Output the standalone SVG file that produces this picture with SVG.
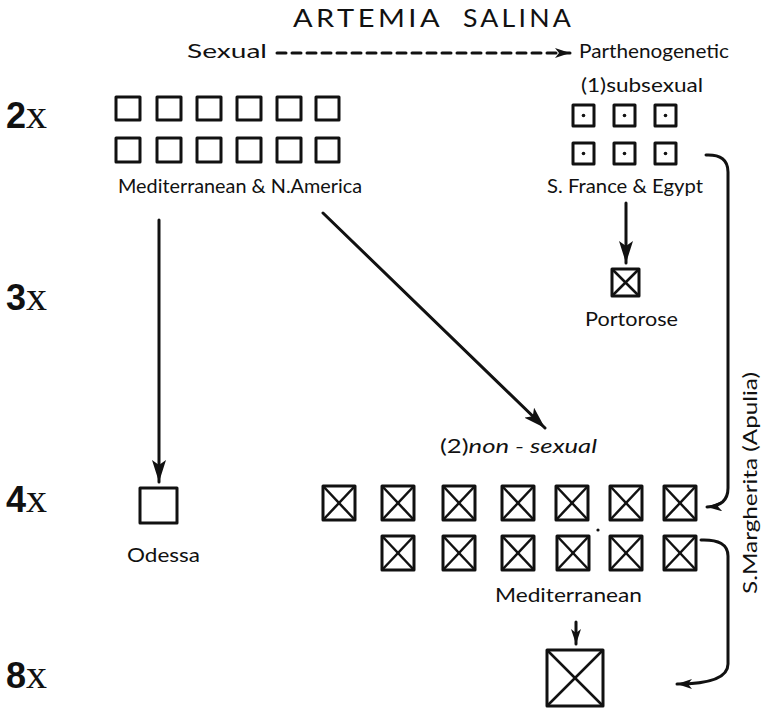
<svg xmlns="http://www.w3.org/2000/svg" width="764" height="709" viewBox="0 0 764 709">
<style>
  text { font-family: "Lato", "Liberation Sans", sans-serif; fill: #111; }
  .lbl { font-size: 20px; }
  .title { font-size: 25px; letter-spacing: 3px; }
  .ploid { font-family: "Liberation Sans", sans-serif; font-weight: bold; font-size: 36px; }
  .xs { font-family: "Liberation Serif", serif; font-weight: normal; font-size: 42px; }
  .box { fill: none; stroke: #111; stroke-width: 3; stroke-linejoin: round; }
  .cross { stroke: #111; stroke-width: 2.5; }
  .line { fill: none; stroke: #111; stroke-width: 3; stroke-linecap: round; }
  .dot { fill: #111; }
</style>
<defs>
  <marker id="ah" markerUnits="userSpaceOnUse" markerWidth="24" markerHeight="14" refX="22" refY="7" orient="auto">
    <path d="M0,0 L22,7 L0,14 L5,7 Z" fill="#111"/>
  </marker>
  <marker id="ahs" markerUnits="userSpaceOnUse" markerWidth="16" markerHeight="10" refX="15" refY="5" orient="auto">
    <path d="M0,0 L15,5 L0,10 L4,5 Z" fill="#111"/>
  </marker>
  <g id="xbox">
    <rect class="box" x="0" y="0" width="32" height="34"/>
    <line class="cross" x1="0" y1="0" x2="32" y2="34"/>
    <line class="cross" x1="32" y1="0" x2="0" y2="34"/>
  </g>
  <g id="dbox">
    <rect class="box" x="0" y="0" width="21" height="21"/>
    <circle class="dot" cx="10.5" cy="10.5" r="1.8"/>
  </g>
</defs>
<rect width="764" height="709" fill="#fff"/>

<g id="title">
  <text class="title" x="293" y="27" textLength="150" lengthAdjust="spacingAndGlyphs">ARTEMIA</text>
  <text class="title" x="463" y="27" textLength="111" lengthAdjust="spacingAndGlyphs">SALINA</text>
  <text class="lbl" x="187" y="58" font-size="24" textLength="80" lengthAdjust="spacingAndGlyphs">Sexual</text>
  <text class="lbl" x="579" y="58" textLength="150" lengthAdjust="spacingAndGlyphs">Parthenogenetic</text>
</g>

<g id="ploidy">
  <text class="ploid" x="6" y="128">2<tspan class="xs">x</tspan></text>
  <text class="ploid" x="6" y="310">3<tspan class="xs">x</tspan></text>
  <text class="ploid" x="6" y="512">4<tspan class="xs">x</tspan></text>
  <text class="ploid" x="6" y="688">8<tspan class="xs">x</tspan></text>
</g>

<g id="sexual-2x">
  <rect class="box" x="116" y="97" width="24" height="23"/>
  <rect class="box" x="157" y="97" width="24" height="23"/>
  <rect class="box" x="197" y="97" width="24" height="23"/>
  <rect class="box" x="237" y="97" width="24" height="23"/>
  <rect class="box" x="277" y="97" width="24" height="23"/>
  <rect class="box" x="316" y="97" width="23" height="23"/>
  <rect class="box" x="116" y="138" width="24" height="24"/>
  <rect class="box" x="157" y="138" width="24" height="24"/>
  <rect class="box" x="197" y="138" width="24" height="24"/>
  <rect class="box" x="237" y="138" width="24" height="24"/>
  <rect class="box" x="277" y="138" width="24" height="24"/>
  <rect class="box" x="316" y="138" width="23" height="24"/>
  <text class="lbl" x="118" y="193" textLength="244" lengthAdjust="spacingAndGlyphs">Mediterranean &amp; N.America</text>
</g>

<g id="subsexual-2x">
  <text class="lbl" x="581" y="92" textLength="122" lengthAdjust="spacingAndGlyphs">(1)subsexual</text>
  <use href="#dbox" x="573" y="105"/>
  <use href="#dbox" x="614" y="105"/>
  <use href="#dbox" x="655" y="105"/>
  <use href="#dbox" x="573" y="143"/>
  <use href="#dbox" x="614" y="143"/>
  <use href="#dbox" x="655" y="143"/>
  <text class="lbl" x="547" y="193" textLength="156" lengthAdjust="spacingAndGlyphs">S. France &amp; Egypt</text>
</g>

<g id="portorose-3x">
  <rect class="box" x="612" y="269" width="27" height="27"/>
  <line class="cross" x1="612" y1="269" x2="639" y2="296"/>
  <line class="cross" x1="639" y1="269" x2="612" y2="296"/>
  <text class="lbl" x="585" y="326" textLength="93" lengthAdjust="spacingAndGlyphs">Portorose</text>
</g>

<g id="odessa-4x">
  <rect class="box" x="140" y="488" width="37" height="35"/>
  <text class="lbl" x="127" y="562" textLength="73" lengthAdjust="spacingAndGlyphs">Odessa</text>
</g>

<g id="nonsexual-4x">
  <text class="lbl" x="440" y="453" textLength="157" lengthAdjust="spacingAndGlyphs">(2)<tspan font-style="italic">non - sexual</tspan></text>
  <use href="#xbox" x="323" y="486"/>
  <use href="#xbox" x="382" y="486"/>
  <use href="#xbox" x="443" y="486"/>
  <use href="#xbox" x="502" y="486"/>
  <use href="#xbox" x="556" y="486"/>
  <use href="#xbox" x="610" y="486"/>
  <use href="#xbox" x="664" y="486"/>
  <use href="#xbox" x="382" y="536"/>
  <use href="#xbox" x="443" y="536"/>
  <use href="#xbox" x="502" y="536"/>
  <use href="#xbox" x="557" y="536"/>
  <use href="#xbox" x="610" y="536"/>
  <use href="#xbox" x="664" y="536"/>
  <circle class="dot" cx="598" cy="530" r="1.6"/>
  <text class="lbl" x="495" y="602" textLength="147" lengthAdjust="spacingAndGlyphs">Mediterranean</text>
</g>

<g id="octoploid-8x">
  <rect class="box" x="547" y="650" width="56" height="56"/>
  <line class="cross" x1="547" y1="650" x2="603" y2="706"/>
  <line class="cross" x1="603" y1="650" x2="547" y2="706"/>
</g>

<g id="margherita">
  <text class="lbl" transform="translate(757,594) rotate(-90)" x="0" y="0" textLength="222" lengthAdjust="spacingAndGlyphs">S.Margherita (Apulia)</text>
</g>

<g id="connectors">
  <line class="line" x1="277" y1="53" x2="570" y2="53" stroke-dasharray="9,6" stroke-linecap="butt" stroke-width="2.5" marker-end="url(#ahs)"/>
  <line class="line" x1="159" y1="220" x2="159" y2="482" marker-end="url(#ah)"/>
  <line class="line" x1="323" y1="213" x2="545" y2="428" marker-end="url(#ah)"/>
  <line class="line" x1="626" y1="203" x2="626" y2="263" marker-end="url(#ah)"/>
  <line class="line" x1="576" y1="622" x2="576" y2="644" marker-end="url(#ahs)"/>
  <path class="line" d="M706,155 Q728,154 728,172 L728,488 Q728,506 707,507" marker-end="url(#ahs)"/>
  <path class="line" d="M701,540 Q728,539 728,556 L728,664 Q728,684 677,684" marker-end="url(#ahs)"/>
</g>
</svg>
